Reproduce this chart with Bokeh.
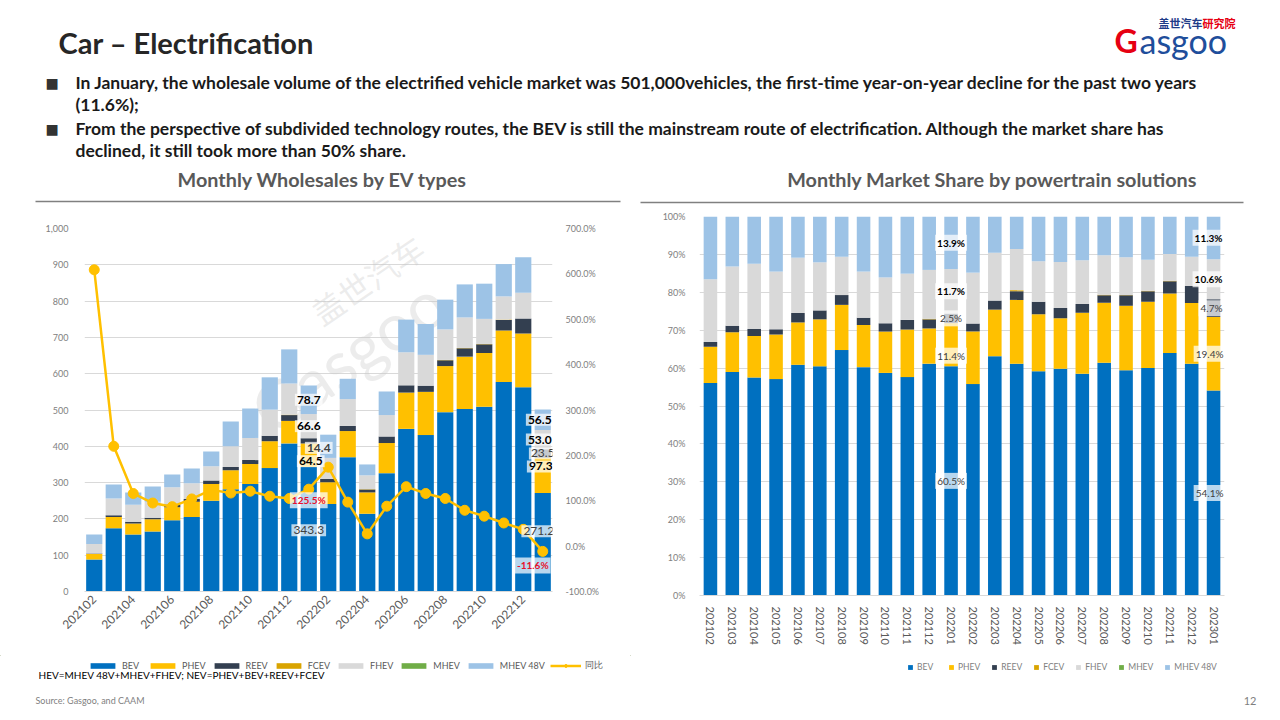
import math
from bokeh.plotting import figure
from bokeh.models import (ColumnDataSource, FactorRange, Range1d, LinearAxis, FixedTicker,
                          NumeralTickFormatter, SingleIntervalTicker, Legend,
                          LegendItem, Label)
from bokeh.layouts import column, row
from bokeh.embed import file_html
from bokeh.resources import INLINE

# ---------------- data ----------------
months = ["202102", "202103", "202104", "202105", "202106", "202107", "202108", "202109",
          "202110", "202111", "202112", "202201", "202202", "202203", "202204", "202205",
          "202206", "202207", "202208", "202209", "202210", "202211", "202212", "202301"]
bev    = [88, 174, 157, 165, 196, 205, 250, 282, 296, 340, 408, 343.3,
          241, 370, 214, 326, 448, 431, 494, 503, 509, 577, 563, 271.2]
phev   = [15, 31, 30, 34, 36, 42, 46, 52, 55, 74, 62, 64.5,
          60, 72, 59, 83, 100, 119, 127, 144, 148, 142, 148, 97.3]
reev   = [2, 5, 5, 4, 8, 8, 10, 9, 11, 15, 16, 14.4,
          9, 14, 8, 18, 20, 17, 16, 23, 24, 29, 41, 23.5]
fcev   = [0, 0, 0, 0, 0, 0, 0, 0, 0, 0, 1, 0,
          0, 0, 1, 0, 0, 0, 1, 1, 1, 1, 0, 0]
fhev   = [26, 46, 47, 44, 47, 43, 39, 57, 61, 72, 86, 66.6,
          58, 74, 38, 59, 91, 85, 84, 84, 69, 64, 71, 53.0]
mhev   = [0, 0, 0, 0, 0, 0, 0, 0, 0, 0, 0, 0,
          0, 0, 0, 0, 0, 0, 0, 0, 0, 0, 0, 0]
mhev48 = [26, 39, 34, 42, 35, 41, 41, 68, 81, 89, 94, 78.7,
          64, 56, 30, 65, 90, 85, 82, 91, 97, 89, 98, 56.5]
yoy    = [6.09, 2.20, 1.16, 0.95, 0.87, 1.04, 1.24, 1.17, 1.21, 1.10, 1.05, 1.255,
          1.74, 0.97, 0.27, 0.88, 1.31, 1.16, 1.05, 0.79, 0.66, 0.51, 0.37, -0.116]

series_names = ["BEV", "PHEV", "REEV", "FCEV", "FHEV", "MHEV", "MHEV 48V"]
series_keys = ["BEV", "PHEV", "REEV", "FCEV", "FHEV", "MHEV", "MHEV48V"]
series_vals = [bev, phev, reev, fcev, fhev, mhev, mhev48]
colors = ["#0070C0", "#FFC000", "#333F50", "#D9A400", "#D9D9D9", "#70AD47", "#9DC3E6"]
left_tick_labels = ["202102", "202104", "202106", "202108", "202110", "202112",
                    "202202", "202204", "202206", "202208", "202210", "202212"]
labelled_months = ["202201", "202301"]

FONT = "Lato"
TXT = "#262626"
AX = "#808080"
LINE_C = "#FFC000"

pos = list(range(len(months)))          # numeric slot of each month on the left chart

def fx(m):
    # synthetic coordinate of a factor's centre on a FactorRange
    return months.index(m) + 0.5

def new_fig(**kw):
    p = figure(output_backend="svg", toolbar_location=None, frame_align=False, **kw)
    p.outline_line_color = None
    p.background_fill_color = "white"
    p.border_fill_color = "white"
    return p

def blank(width, height):
    p = new_fig(width=width, height=height, x_range=Range1d(0, width), y_range=Range1d(height, 0),
                min_border=0, x_axis_location=None, y_axis_location=None)
    p.grid.visible = False
    return p

def txt(p, x, y, text, size, color=TXT, bold=False, align="left", font=FONT, **kw):
    p.add_layout(Label(x=x, y=y, text=text, text_font=font, text_font_size=f"{size}px",
                       text_color=color, text_font_style="bold" if bold else "normal",
                       text_align=align, text_baseline="middle", **kw))

# ---------------- header (page y 0..205) ----------------
header = blank(1280, 205)
txt(header, 58, 42, "Car – Electrification", 29, bold=True)
txt(header, 1158, 22, "盖世汽车", 11, color="#1F3C88", bold=True, font="Noto Sans CJK SC")
txt(header, 1202, 22, "研究院", 11, color="#E60012", bold=True, font="Noto Sans CJK SC")
txt(header, 1114, 40, "G", 32, color="#E60012", bold=True)
txt(header, 1139, 40, "asgoo", 34, color="#1F4E9B")
bullets = [
    (82, "In January, the wholesale volume of the electrified vehicle market was 501,000vehicles, the first-time year-on-year decline for the past two years", True),
    (104, "(11.6%);", False),
    (128, "From the perspective of subdivided technology routes, the BEV is still the mainstream route of electrification. Although the market share has", True),
    (150, "declined, it still took more than 50% share.", False),
]
for y, t, sq in bullets:
    if sq:
        txt(header, 45, y, "■", 14, color="#333333", font="DejaVu Sans")
    txt(header, 75, y, t, 17.5, color="#1a1a1a", bold=True)
txt(header, 327, 178, "Monthly  Wholesales  by EV types", 19.8, color="#595959", bold=True, align="center")
txt(header, 999, 178, "Monthly  Market  Share by powertrain  solutions", 19.8, color="#595959", bold=True, align="center")
header.line([35, 620], [201, 201], line_color="#808080", line_width=1.5)
header.line([640, 1243], [202, 202], line_color="#808080", line_width=1.5)

# ---------------- left chart (page x 0..630, y 205..655) ----------------
src = ColumnDataSource(dict(pos=pos, month=months,
                            **{k: v for k, v in zip(series_keys, series_vals)}, yoy=yoy))
left = new_fig(width=630, height=450, x_range=Range1d(-0.5, len(months) - 0.5), y_range=Range1d(0, 1000),
               min_border_left=84, min_border_right=78, min_border_top=23, min_border_bottom=64)
left.extra_y_ranges = {"yoy": Range1d(-1, 7)}

# watermark
for m, y, t, s in [("202203", 650, "Gasgoo", 66), ("202204", 860, "盖世汽车", 32)]:
    left.add_layout(Label(x=months.index(m), y=y, text=t, angle=0.6,
                          text_font=FONT if t == "Gasgoo" else "Noto Sans CJK SC",
                          text_font_size=f"{s}px", text_color="#C8C8C8", text_alpha=0.35,
                          text_align="center", text_baseline="middle", level="underlay"))

left.vbar_stack(series_keys, x="pos", width=0.83, source=src, fill_color=colors, line_color=None)
left.line("pos", "yoy", source=src, y_range_name="yoy", line_color=LINE_C, line_width=2.5)
left.scatter("pos", "yoy", source=src, y_range_name="yoy", size=10, fill_color=LINE_C, line_color=LINE_C)

left.yaxis.ticker = SingleIntervalTicker(interval=100)
left.yaxis.formatter = NumeralTickFormatter(format="0,0")
rax = LinearAxis(y_range_name="yoy", ticker=SingleIntervalTicker(interval=1),
                 formatter=NumeralTickFormatter(format="0.0%"))
left.add_layout(rax, "right")
for ax in left.yaxis:
    ax.axis_line_color = None
    ax.major_tick_line_color = None
    ax.minor_tick_line_color = None
    ax.major_label_text_font = FONT
    ax.major_label_text_font_size = "9px"
    ax.major_label_text_color = AX
left.yaxis[0].major_label_standoff = 10
rax.major_label_standoff = 7
xa = left.xaxis[0]
xa.ticker = FixedTicker(ticks=[months.index(m) for m in left_tick_labels])
xa.major_label_overrides = {months.index(m): m for m in left_tick_labels}
xa.major_label_orientation = math.pi / 4
xa.major_label_text_font = FONT
xa.major_label_text_font_size = "12px"
xa.major_label_text_color = "#595959"
xa.axis_line_color = "#D9D9D9"
xa.major_tick_line_color = None
xa.major_tick_out = 0
xa.minor_tick_line_color = None
xa.major_label_standoff = 6
left.xgrid.grid_line_color = None
left.ygrid.grid_line_color = "#D9D9D9"

left.add_layout(Label(x=0, y=1000, text="K units", x_offset=-56, y_offset=14, text_font=FONT,
                      text_font_size="10px", text_color="#595959", text_baseline="middle"))

def stack_mids(i, arrays):
    mids, c = [], 0
    for a in arrays:
        mids.append(c + a[i] / 2)
        c += a[i]
    return mids

# label style per series: (bold, color, x_offset, y_offset) for each labelled month
left_style = {
    "202201": {0: (False, "#404040", 0, -1), 1: (True, "#000000", 2, -6), 2: (True, "#404040", 10, -7),
               4: (True, "#000000", 0, 0), 6: (True, "#000000", 0, 0)},
    "202301": {0: (False, "#404040", -4, 11), 1: (True, "#000000", -2, 9), 2: (False, "#404040", 0, 0),
               4: (True, "#000000", -3, 0), 6: (True, "#000000", -3, 0)},
}
yoy_off = {"202201": (0, -11), "202301": (-10, -14)}
for m in labelled_months:
    i = months.index(m)
    mids = stack_mids(i, series_vals)
    for s, (b, col, xo, yo) in left_style[m].items():
        left.add_layout(Label(x=i, y=mids[s], text=f"{series_vals[s][i]:.1f}", x_offset=xo, y_offset=yo,
                              text_font=FONT, text_font_size="12px", text_color=col,
                              text_font_style="bold" if b else "normal", text_align="center",
                              text_baseline="middle", background_fill_color="white",
                              background_fill_alpha=0.72, padding=2))
    xo, yo = yoy_off[m]
    left.add_layout(Label(x=i, y=yoy[i], y_range_name="yoy", text=f"{yoy[i] * 100:.1f}%", x_offset=xo,
                          y_offset=yo, text_font=FONT, text_font_size="10px", text_color="#E8112D",
                          text_font_style="bold", text_align="center", text_baseline="middle",
                          background_fill_color="white", background_fill_alpha=0.72, padding=2))

# ---------------- right chart (page x 630..1280, y 205..655) ----------------
totals = [sum(v[i] for v in series_vals) for i in range(len(months))]
share = {k: [v[i] / totals[i] for i in range(len(months))] for k, v in zip(series_keys, series_vals)}
src2 = ColumnDataSource(dict(month=months, **share))
right = new_fig(width=650, height=450, x_range=FactorRange(*months), y_range=Range1d(0, 1),
                min_border_left=69, min_border_right=56, min_border_top=11, min_border_bottom=60)
right.vbar_stack(series_keys, x="month", width=0.62, source=src2, fill_color=colors, line_color=None)
right.yaxis.ticker = SingleIntervalTicker(interval=0.1)
right.yaxis.formatter = NumeralTickFormatter(format="0%")
ya = right.yaxis[0]
ya.axis_line_color = None
ya.major_tick_line_color = None
ya.minor_tick_line_color = None
ya.major_label_text_font = FONT
ya.major_label_text_font_size = "9px"
ya.major_label_text_color = AX
ya.major_label_standoff = 8
xb = right.xaxis[0]
xb.major_label_orientation = "vertical"
xb.major_label_text_font = FONT
xb.major_label_text_font_size = "11px"
xb.major_label_text_color = "#595959"
xb.axis_line_color = "#D9D9D9"
xb.major_tick_line_color = None
xb.major_tick_out = 0
xb.major_label_standoff = 11
right.xgrid.grid_line_color = None
right.ygrid.grid_line_color = "#D9D9D9"

right_style = {
    "202201": {0: (False, "#404040", 0, 0), 1: (False, "#404040", 0, -11), 2: (False, "#404040", 0, 0),
               4: (True, "#000000", 0, 0), 6: (True, "#000000", 0, 0)},
    "202301": {0: (False, "#404040", -4, 0), 1: (False, "#404040", -4, 0), 2: (False, "#404040", -2, 0),
               4: (True, "#000000", -5, 0), 6: (True, "#000000", -5, 0)},
}
share_vals = [share[k] for k in series_keys]
for m in labelled_months:
    i = months.index(m)
    mids = stack_mids(i, share_vals)
    for s, (b, col, xo, yo) in right_style[m].items():
        right.add_layout(Label(x=fx(m), y=mids[s], text=f"{share_vals[s][i] * 100:.1f}%", x_offset=xo, y_offset=yo,
                               text_font=FONT, text_font_size="10px", text_color=col,
                               text_font_style="bold" if b else "normal", text_align="center",
                               text_baseline="middle", background_fill_color="white",
                               background_fill_alpha=0.72, padding=2))

# ---------------- legend strips (page y 655..684) ----------------
# legend swatches are proxy renderers whose single point lies outside the strip's visible range
def legend_strip(width, with_line, loc, gw, gh, fsize, fcolor, standoff, spacing):
    p = blank(width, 29)
    off = [-1000]
    items = []
    for n, c in zip(series_names, colors):
        r = p.vbar(x=off, top=[-1001], bottom=[-1002], width=0.5, fill_color=c, line_color=None)
        items.append(LegendItem(label=n, renderers=[r]))
    if with_line:
        r1 = p.line(x=[-1000, -999], y=[-1000, -1000], line_color=LINE_C, line_width=2.5)
        r2 = p.scatter(x=off, y=[-1000], size=9, fill_color=LINE_C, line_color=LINE_C)
        items.append(LegendItem(label="同比", renderers=[r1, r2]))
    p.add_layout(Legend(items=items, orientation="horizontal", location=loc, glyph_width=gw,
                        glyph_height=gh, label_text_font=FONT, label_text_font_size=f"{fsize}px",
                        label_text_color=fcolor, label_standoff=standoff, spacing=spacing,
                        padding=0, margin=0, label_height=8, border_line_color=None,
                        background_fill_alpha=0))
    return p

leg_left = legend_strip(630, True, (87, 12), 31, 7, 9, "#595959", 4, 5)
txt(leg_left, 38, 19, "HEV=MHEV 48V+MHEV+FHEV; NEV=PHEV+BEV+REEV+FCEV", 10, color="#000000")
leg_right = legend_strip(650, False, (277, 12), 6, 6, 8.5, AX, 4, 11)

# ---------------- footer (page y 684..720) ----------------
footer = blank(1280, 36)
txt(footer, 35, 16, "Source: Gasgoo, and CAAM", 9, color="#7F7F7F")
txt(footer, 1256, 16, "12", 11, color="#7F7F7F", align="right")

page = column(header, row(left, right), row(leg_left, leg_right), footer)
open("out.html", "w").write(file_html(page, INLINE))
